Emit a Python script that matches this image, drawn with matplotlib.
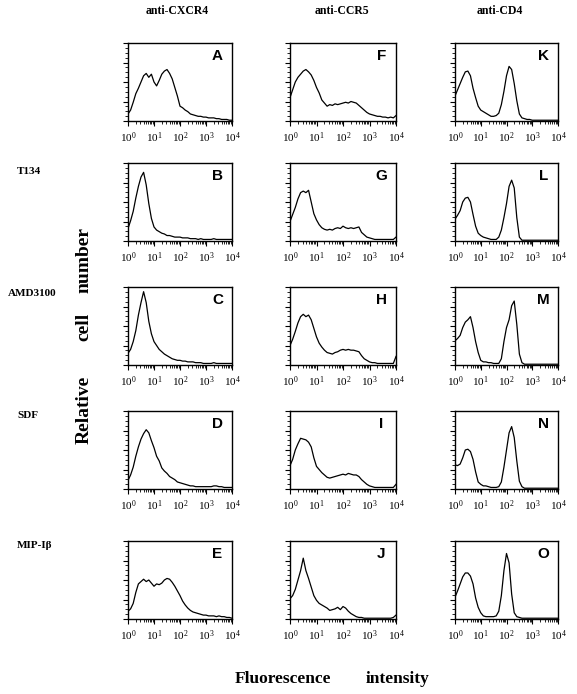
import numpy as np
import matplotlib
matplotlib.use("Agg")
import matplotlib.pyplot as plt
from matplotlib.ticker import LogLocator, FixedLocator, NullFormatter

plt.rcParams['font.family'] = ['Liberation Serif', 'DejaVu Serif']
plt.rcParams['mathtext.fontset'] = 'stix'

# fluorescence channels, in decades (10^0 .. 10^4)
decades = np.round(np.arange(0, 4.01, 0.1), 1)

col_titles = ['anti-CXCR4', 'anti-CCR5', 'anti-CD4']
row_labels = ['', 'T134', 'AMD3100', 'SDF', 'MIP-I\u03b2']
letters = [['A', 'F', 'K'], ['B', 'G', 'L'], ['C', 'H', 'M'], ['D', 'I', 'N'], ['E', 'J', 'O']]

# relative cell number (% of axis height)
A = [9, 14, 24, 35, 42, 50, 58, 61, 56, 60, 50, 45, 52, 60, 64, 66, 61, 54, 43, 32, 19,
     17, 14, 12, 9, 8, 7, 6, 6, 5, 5, 4, 4, 4, 3, 3, 2, 2, 2, 1, 1]
F = [30, 40, 50, 56, 60, 64, 66, 63, 59, 52, 43, 36, 27, 23, 19, 21, 20, 22, 21, 22, 23,
     24, 23, 25, 24, 23, 20, 17, 14, 11, 9, 8, 7, 6, 6, 5, 5, 4, 5, 4, 7]
K = [32, 40, 48, 56, 63, 64, 58, 42, 30, 19, 14, 12, 10, 8, 6, 6, 7, 10, 21, 38, 58,
     70, 66, 48, 26, 9, 4, 3, 2, 2, 1, 1, 1, 1, 1, 1, 1, 1, 1, 1, 1]
B = [16, 26, 38, 55, 70, 82, 88, 72, 48, 29, 18, 14, 12, 10, 9, 7, 7, 6, 5, 5, 5,
     4, 4, 4, 3, 3, 3, 2, 3, 2, 2, 2, 2, 3, 2, 2, 2, 2, 2, 2, 2]
G = [25, 34, 43, 54, 62, 64, 62, 65, 50, 35, 27, 21, 17, 15, 14, 15, 14, 16, 17, 16, 19,
     17, 16, 17, 16, 17, 18, 11, 8, 5, 4, 3, 2, 2, 2, 2, 2, 2, 2, 2, 5]
L = [28, 33, 39, 50, 55, 56, 50, 34, 19, 10, 7, 5, 4, 3, 2, 2, 2, 5, 14, 30, 48,
     70, 78, 68, 30, 5, 1, 1, 1, 1, 1, 1, 1, 1, 1, 1, 1, 1, 1, 1, 1]
C = [15, 20, 30, 44, 64, 80, 94, 80, 56, 40, 30, 25, 20, 17, 14, 12, 10, 8, 7, 6, 6,
     5, 5, 4, 4, 4, 3, 3, 3, 2, 2, 2, 2, 3, 2, 2, 2, 2, 2, 2, 2]
H = [25, 33, 43, 54, 62, 65, 62, 64, 58, 47, 36, 28, 23, 19, 16, 15, 14, 16, 17, 19, 20,
     19, 20, 19, 19, 18, 17, 12, 8, 6, 4, 3, 3, 2, 2, 2, 2, 2, 2, 2, 11]
M = [31, 34, 38, 48, 55, 58, 62, 48, 30, 16, 6, 4, 4, 3, 3, 2, 2, 2, 8, 30, 48,
     58, 76, 82, 52, 14, 3, 1, 1, 1, 1, 1, 1, 1, 1, 1, 1, 1, 1, 1, 1]
D = [11, 18, 28, 42, 54, 64, 71, 76, 72, 62, 53, 42, 36, 27, 23, 20, 16, 14, 12, 9, 8,
     7, 6, 5, 4, 4, 3, 3, 3, 3, 3, 3, 3, 4, 4, 3, 3, 2, 2, 2, 2]
I = [30, 38, 50, 58, 65, 64, 63, 60, 54, 40, 29, 25, 21, 18, 15, 14, 15, 16, 17, 18, 19,
     18, 20, 19, 18, 18, 16, 12, 9, 6, 4, 3, 2, 2, 2, 2, 2, 2, 2, 2, 6]
N = [31, 30, 32, 40, 50, 51, 48, 38, 22, 9, 6, 4, 4, 3, 2, 2, 2, 3, 9, 28, 50,
     72, 80, 66, 36, 10, 3, 1, 1, 1, 1, 1, 1, 1, 1, 1, 1, 1, 1, 1, 1]
E = [10, 13, 20, 34, 45, 48, 51, 48, 50, 46, 42, 45, 44, 46, 50, 52, 51, 47, 42, 36, 30,
     23, 18, 14, 11, 9, 8, 7, 6, 5, 5, 4, 4, 4, 3, 4, 3, 3, 2, 2, 1]
J = [26, 30, 38, 50, 62, 78, 62, 52, 41, 30, 24, 20, 18, 16, 14, 11, 12, 13, 15, 12, 16,
     14, 10, 7, 5, 3, 2, 2, 1, 1, 1, 1, 1, 1, 1, 1, 1, 1, 1, 2, 5]
O = [28, 36, 45, 54, 59, 59, 55, 45, 27, 15, 8, 4, 3, 3, 3, 3, 4, 10, 30, 62, 84,
     72, 32, 8, 3, 2, 1, 1, 1, 1, 1, 1, 1, 1, 1, 1, 1, 1, 1, 1, 1]

panels = [[A, F, K], [B, G, L], [C, H, M], [D, I, N], [E, J, O]]

W, Hpx = 577, 694
fig = plt.figure(figsize=(W / 100, Hpx / 100), dpi=100)

col_left = [128, 290, 455]
col_w = [104, 106, 103]
row_top = [43, 163, 287, 411, 541]
row_h = 78

for r in range(5):
    for c in range(3):
        ax = fig.add_axes([col_left[c] / W, 1 - (row_top[r] + row_h) / Hpx,
                           col_w[c] / W, row_h / Hpx])
        ax.plot(10 ** decades, panels[r][c], color='black', lw=0.9)
        ax.set_xscale('log')
        ax.set_xlim(1, 1e4)
        ax.set_ylim(0, 100)
        ax.xaxis.set_major_locator(LogLocator(base=10, numticks=6))
        ax.xaxis.set_minor_locator(LogLocator(base=10, subs=np.arange(2, 10), numticks=20))
        ax.xaxis.set_minor_formatter(NullFormatter())
        ax.yaxis.set_major_locator(FixedLocator([0, 25, 50, 75, 100]))
        ax.yaxis.set_minor_locator(FixedLocator(np.arange(0, 101, 6.25)))
        ax.set_yticklabels([])
        ax.tick_params(axis='both', which='major', direction='out', length=3.5, width=0.8,
                       labelsize=8, pad=3.5)
        ax.tick_params(axis='both', which='minor', direction='out', length=2, width=0.6)
        for s in ax.spines.values():
            s.set_linewidth(1.0)
        ax.text(0.86, 0.83, letters[r][c], transform=ax.transAxes, ha='center', va='center',
                fontsize=11, fontweight='bold', family='Liberation Sans')

# column titles
for c, t in enumerate(col_titles):
    fig.text((177, 342, 500)[c] / W, 1 - 11 / Hpx, t, ha='center', va='center',
             fontsize=8.5, fontweight='bold')

# row labels
row_x = [17, 17, 8, 17, 17]
row_y = [0, 172, 294, 416, 546]
for r in range(1, 5):
    fig.text(row_x[r] / W, 1 - row_y[r] / Hpx, row_labels[r], ha='left', va='center',
             fontsize=8, fontweight='bold')

# y axis title, words spread out
for word, yc in [('number', 260), ('cell', 327), ('Relative', 410)]:
    fig.text(84 / W, 1 - yc / Hpx, word, rotation=90, ha='center', va='center',
             fontsize=14, fontweight='bold')

# x axis title
fig.text(283 / W, 1 - 679 / Hpx, 'Fluorescence', ha='center', va='center',
         fontsize=12.5, fontweight='bold')
fig.text(398 / W, 1 - 679 / Hpx, 'intensity', ha='center', va='center',
         fontsize=12.5, fontweight='bold')

fig.savefig('out.png', dpi=100)
